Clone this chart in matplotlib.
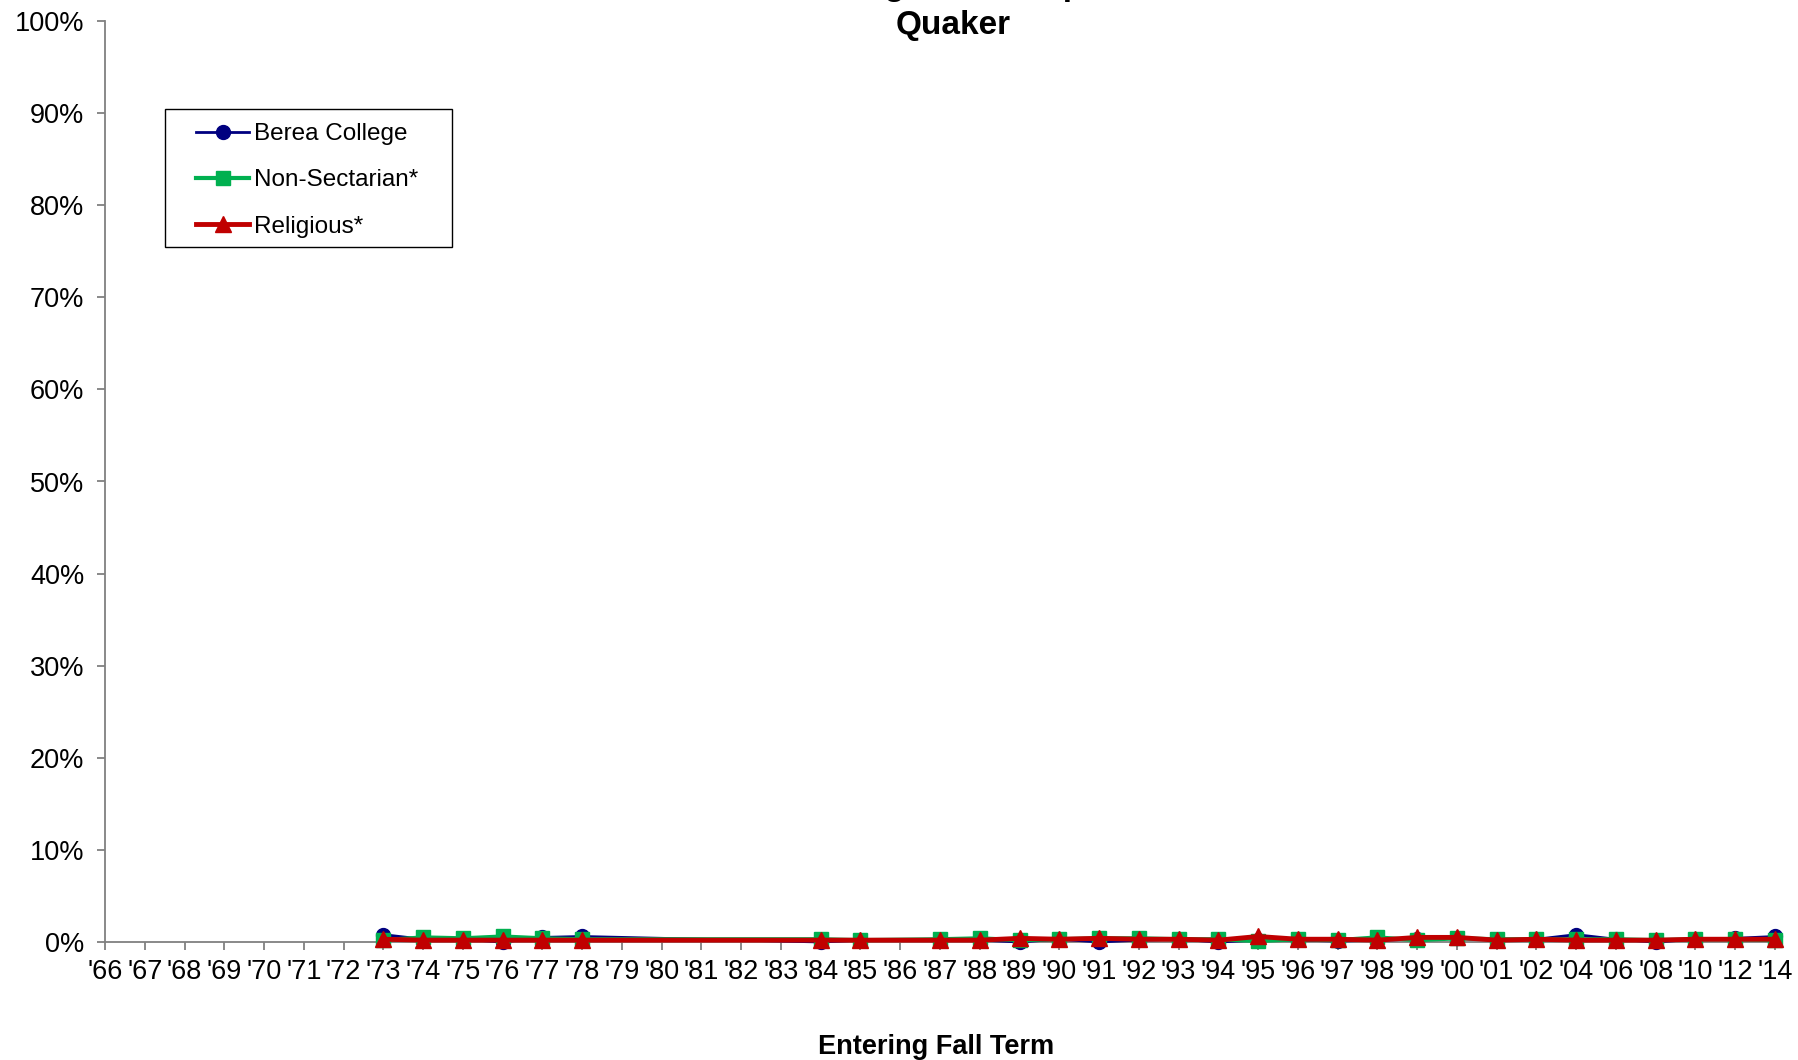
import matplotlib
matplotlib.use("Agg")
import numpy as np
import matplotlib.pyplot as plt
from matplotlib.patches import Rectangle
from matplotlib.ticker import PercentFormatter

# Entering fall term categories ('03 is absent, odd years after '04 absent)
years = ["'66", "'67", "'68", "'69", "'70", "'71", "'72", "'73", "'74", "'75",
         "'76", "'77", "'78", "'79", "'80", "'81", "'82", "'83", "'84", "'85",
         "'86", "'87", "'88", "'89", "'90", "'91", "'92", "'93", "'94", "'95",
         "'96", "'97", "'98", "'99", "'00", "'01", "'02", "'04", "'06", "'08",
         "'10", "'12", "'14"]

# percent of students, None = no survey that year
berea = [None, None, None, None, None, None, None, 0.8, 0.3, 0.3,
         0.0, 0.5, 0.6, None, None, None, None, None, 0.0, 0.2,
         None, 0.2, 0.2, 0.0, 0.3, 0.0, 0.2, 0.3, 0.0, 0.2,
         0.2, 0.1, 0.2, 0.3, 0.4, 0.2, 0.3, 0.8, 0.3, 0.0,
         0.3, 0.4, 0.6]
non_sectarian = [None, None, None, None, None, None, None, 0.2, 0.5, 0.4,
                 0.6, 0.4, 0.3, None, None, None, None, None, 0.3, 0.2,
                 None, 0.3, 0.4, 0.2, 0.3, 0.4, 0.4, 0.3, 0.3, 0.1,
                 0.3, 0.2, 0.5, 0.2, 0.4, 0.3, 0.3, 0.3, 0.3, 0.2,
                 0.3, 0.3, 0.2]
religious = [None, None, None, None, None, None, None, 0.3, 0.2, 0.2,
             0.2, 0.2, 0.2, None, None, None, None, None, 0.2, 0.2,
             None, 0.2, 0.2, 0.4, 0.3, 0.4, 0.3, 0.3, 0.2, 0.6,
             0.3, 0.3, 0.2, 0.5, 0.5, 0.2, 0.3, 0.2, 0.2, 0.2,
             0.3, 0.3, 0.3]

plt.rcParams['font.family'] = ['Liberation Sans', 'DejaVu Sans']

W, H = 1798, 1060


def valid(series):
    """Return x positions and values for the years that have data."""
    xs = [i for i, v in enumerate(series) if v is not None]
    ys = [series[i] for i in xs]
    return np.array(xs), np.array(ys)


fig = plt.figure(figsize=(W / 100, H / 100), dpi=100)
ax = fig.add_axes([105 / W, 1 - 942 / H, (1775 - 105) / W, (942 - 21) / H])

x, y = valid(berea)
ax.plot(x, y, color='#000080', linewidth=2, marker='o', markersize=10,
        label='Berea College', clip_on=False, zorder=3)
x, y = valid(non_sectarian)
ax.plot(x, y, color='#00B050', linewidth=3, marker='s', markersize=10,
        label='Non-Sectarian*', clip_on=False, zorder=4)
x, y = valid(religious)
ax.plot(x, y, color='#C00000', linewidth=3.5, marker='^', markersize=11,
        label='Religious*', clip_on=False, zorder=5)

ax.set_xlim(0, len(years) - 1)
ax.set_ylim(0, 100)
ax.set_xticks(range(len(years)))
ax.set_xticklabels(years)
ax.set_yticks(np.arange(0, 101, 10))
ax.yaxis.set_major_formatter(PercentFormatter(decimals=0))

for side in ['top', 'right']:
    ax.spines[side].set_visible(False)
for side in ['left', 'bottom']:
    ax.spines[side].set_color('#808080')
    ax.spines[side].set_linewidth(1.3)
ax.tick_params(axis='both', direction='out', length=6, width=1.3,
               color='#808080', labelsize=19.5)
ax.tick_params(axis='y', pad=9)
ax.tick_params(axis='x', pad=6)

# legend box drawn separately so the inner padding matches
fig.patches.append(Rectangle((165 / W, 1 - 247 / H), (452 - 165) / W, (247 - 109) / H,
                             transform=fig.transFigure, fill=False,
                             edgecolor='black', linewidth=1.0))
ax.legend(loc='upper left', bbox_to_anchor=(196 / W, 1 - 123 / H),
          bbox_transform=fig.transFigure, fontsize=17.5, frameon=False,
          handlelength=2.2, labelspacing=1.0, borderpad=0,
          handletextpad=0.2, borderaxespad=0)

# title: first line sits above the canvas, only "Quaker" is fully visible
fig.text(953 / W, 1 + 5 / H, 'Religious Group', ha='center', va='baseline',
         fontsize=24, fontweight='bold')
fig.text(953 / W, 1 - 34 / H, 'Quaker', ha='center', va='baseline',
         fontsize=24, fontweight='bold')
fig.text(936 / W, 1 - 1047 / H, 'Entering Fall Term', ha='center',
         va='center', fontsize=19.5, fontweight='bold')

fig.savefig('out.png', dpi=100)
